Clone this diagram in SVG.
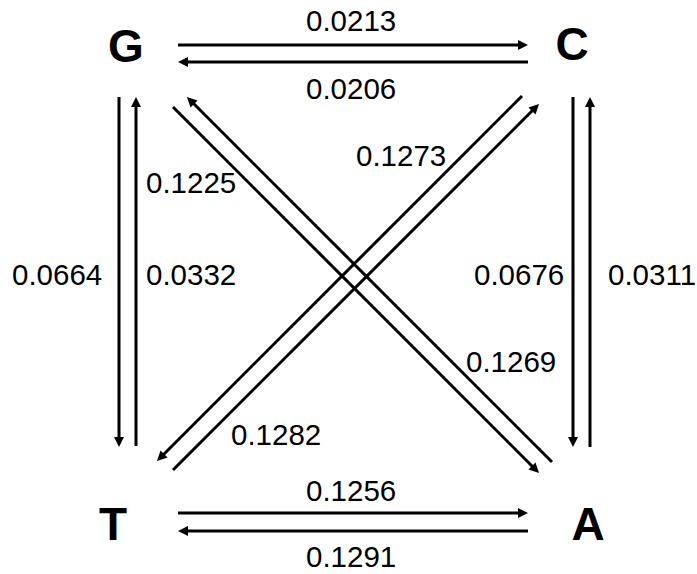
<svg xmlns="http://www.w3.org/2000/svg" width="697" height="574" viewBox="0 0 697 574">
  <style>
    .node { font-family: "Liberation Sans", Arial, sans-serif; font-weight: bold; font-size: 46px; fill: #000; text-anchor: middle; }
    .rate { font-family: "Liberation Sans", Arial, sans-serif; font-size: 29.5px; fill: #000; }
    .edge { stroke: #000; stroke-width: 3; fill: none; marker-end: url(#head); }
    .tail { stroke: #000; stroke-width: 3; fill: none; }
  </style>
  <defs>
    <marker id="head" viewBox="0 -5 10 10" refX="6" refY="0" markerWidth="10" markerHeight="10" markerUnits="userSpaceOnUse" orient="auto">
      <path d="M0,-5 L10,0 L0,5 Z" fill="#000"/>
    </marker>
  </defs>
  <rect width="697" height="574" fill="#fff"/>

  <!-- bases -->
  <g id="node-G"><text class="node" x="126" y="62">G</text></g>
  <g id="node-C"><text class="node" x="572" y="60">C</text></g>
  <g id="node-T"><text class="node" x="113" y="540">T</text></g>
  <g id="node-A"><text class="node" x="588" y="540">A</text></g>

  <!-- substitution arrows -->
  <g id="connectors">
    <line class="edge" x1="178" y1="45" x2="524" y2="45"/>
    <line class="edge" x1="528" y1="62" x2="182" y2="62"/>
    <line class="edge" x1="178" y1="513" x2="524" y2="513"/>
    <line class="edge" x1="528" y1="531" x2="182" y2="531"/>
    <line class="edge" x1="119" y1="97" x2="119" y2="443"/>
    <line class="edge" x1="136" y1="446" x2="136" y2="101"/>
    <line class="edge" x1="573" y1="97" x2="573" y2="443"/>
    <line class="edge" x1="590" y1="447" x2="590" y2="101"/>
    <line class="edge" x1="173" y1="107" x2="536.2" y2="470.2"/>
    <line class="edge" x1="552" y1="462" x2="189.8" y2="99.8"/>
    <line class="edge" x1="522" y1="96" x2="159.8" y2="458.2"/>
    <line class="edge" x1="173" y1="470" x2="536.2" y2="106.8"/>
  </g>

  <!-- rates -->
  <g id="labels">
    <text class="rate" x="306" y="31">0.0213</text>
    <text class="rate" x="306" y="99">0.0206</text>
    <text class="rate" x="146" y="193">0.1225</text>
    <text class="rate" x="12" y="285">0.0664</text>
    <text class="rate" x="146" y="285">0.0332</text>
    <text class="rate" x="356" y="166">0.1273</text>
    <text class="rate" x="474" y="285">0.0676</text>
    <text class="rate" x="608" y="285">0.0311</text>
    <text class="rate" x="466" y="372">0.1269</text>
    <text class="rate" x="231" y="445">0.1282</text>
    <text class="rate" x="306" y="501">0.1256</text>
    <text class="rate" x="306" y="567">0.1291</text>
  </g>
</svg>
